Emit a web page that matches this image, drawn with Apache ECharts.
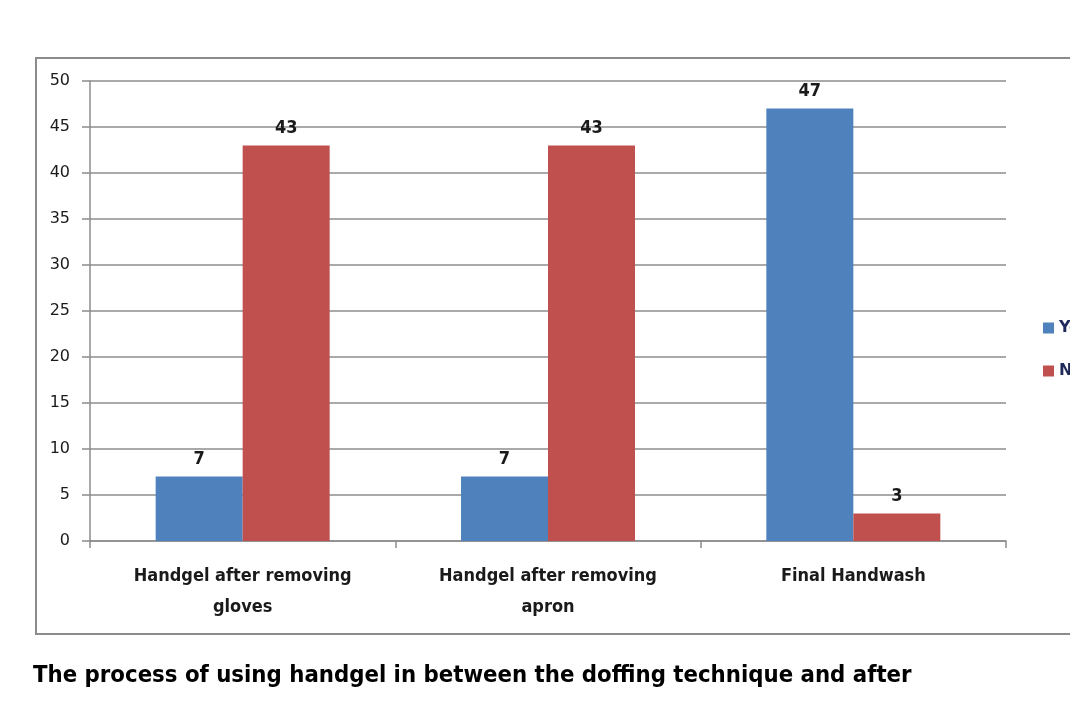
<!DOCTYPE html>
<html><head><meta charset="utf-8">
<script src="https://cdn.jsdelivr.net/npm/echarts@6/dist/echarts.min.js"></script>
<style>html,body{margin:0;padding:0;background:#fff;overflow:hidden}#c{width:1070px;height:719px}</style>
</head><body><div id="c"></div>
<script>
const categories = ['Handgel after removing\ngloves', 'Handgel after removing\napron', 'Final Handwash'];
const yesValues = [7, 7, 47];
const noValues = [43, 43, 3];
const seriesNames = ['Yes', 'No'];
const titleText = 'The process of using handgel in between the doffing technique and after';

const chart = echarts.init(document.getElementById('c'), null, {renderer: 'canvas'});
const labelStyle = {show: true, position: 'top', fontSize: 18, fontWeight: 'bold', color: '#1a1a1a', fontFamily: 'DejaVu Sans Condensed', distance: 8};
chart.setOption({
  animation: false,
  graphic: [
    {type: 'rect', shape: {x: 36, y: 58, width: 1100, height: 576}, style: {fill: 'none', stroke: '#8c8c8c', lineWidth: 2}, z: 0},
    {type: 'text', left: 33, top: 664, style: {text: titleText, fontSize: 23.7, fontWeight: 'bold', fill: '#000', fontFamily: 'Liberation Sans Narrow, DejaVu Sans Condensed'}}
  ],
  legend: {
    orient: 'vertical', left: 1038, top: 315, itemWidth: 11, itemHeight: 11, itemGap: 27, icon: 'rect',
    textStyle: {fontSize: 16, fontWeight: 'bold', color: '#1f2a5a', fontFamily: 'DejaVu Sans'},
    data: seriesNames
  },
  grid: {left: 90, right: 64, top: 81, bottom: 178, containLabel: false},
  xAxis: {
    type: 'category', data: categories,
    axisLine: {lineStyle: {color: '#8c8c8c', width: 1.5}},
    axisTick: {show: true, length: 7, alignWithLabel: false, lineStyle: {color: '#8c8c8c', width: 1.5}},
    axisLabel: {fontSize: 18, fontWeight: 'bold', color: '#1a1a1a', fontFamily: 'DejaVu Sans Condensed', lineHeight: 31, margin: 20, interval: 0}
  },
  yAxis: {
    type: 'value', min: 0, max: 50, interval: 5,
    axisLine: {show: true, lineStyle: {color: '#8c8c8c', width: 1.5}},
    axisTick: {show: true, length: 8, lineStyle: {color: '#8c8c8c', width: 1.5}},
    splitLine: {lineStyle: {color: '#8c8c8c', width: 1.5}},
    axisLabel: {fontSize: 16, color: '#1a1a1a', fontFamily: 'DejaVu Sans', margin: 20}
  },
  series: [
    {name: seriesNames[0], type: 'bar', data: yesValues, barWidth: 87, barGap: '0%', itemStyle: {color: '#4f81bd'}, label: labelStyle},
    {name: seriesNames[1], type: 'bar', data: noValues, barWidth: 87, itemStyle: {color: '#c0504d'}, label: labelStyle}
  ]
});
</script></body></html>
